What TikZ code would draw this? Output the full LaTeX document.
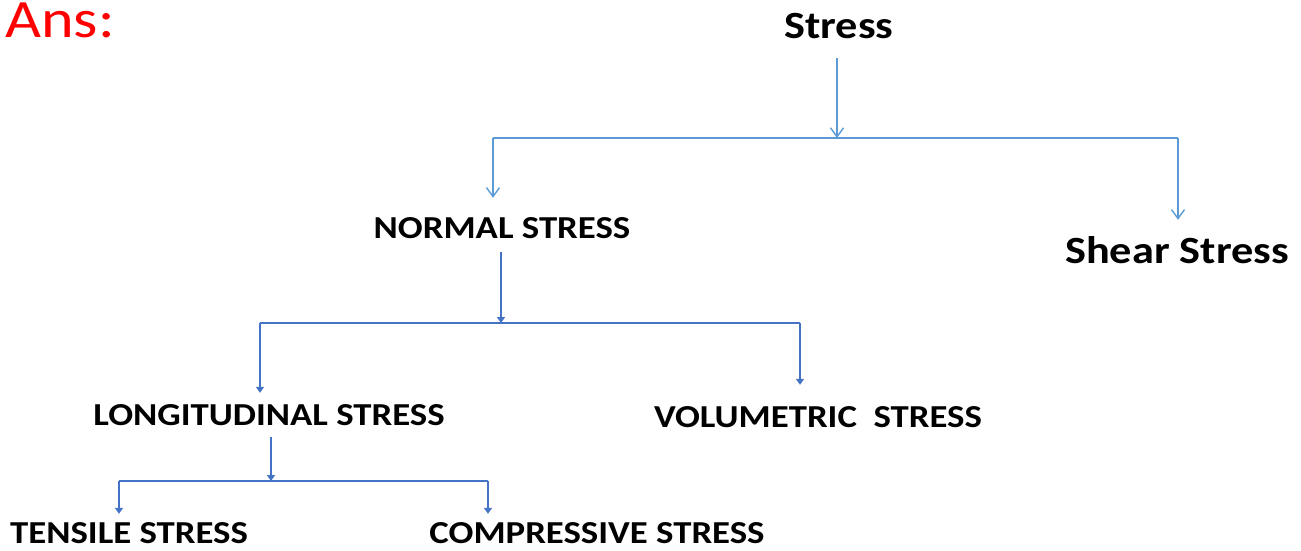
\documentclass[tikz,border=0pt]{standalone}
\usepackage{fontspec}
\setmainfont{Carlito}
\newfontfamily\boxfont{Carlito}[FakeStretch=1.15]
\usetikzlibrary{arrows.meta}
\definecolor{lightline}{RGB}{91,155,213}
\definecolor{darkline}{RGB}{68,114,196}
\tikzset{
	lbl/.style={inner sep=0pt, anchor=base, text depth=0pt},
	bigtxt/.style={lbl, font=\fontsize{38.5}{40}\selectfont\boxfont\bfseries},
	smalltxt/.style={lbl, font=\fontsize{32}{34}\selectfont\boxfont\bfseries},
	linkA/.style={lightline, line width=1.4pt},
	arrA/.style={linkA, -{Straight Barb[length=9pt,width=13pt]}},
	linkB/.style={darkline, line width=1.8pt},
	arrB/.style={linkB, -{Triangle[length=6pt,width=8pt]}}
}

\begin{document}
\begin{tikzpicture}[x=1pt,y=-1pt]
\useasboundingbox (0,0) rectangle (1301,551);
\node [inner sep=0pt, anchor=base west, red, font=\fontsize{54}{58}\selectfont\boxfont] (ans) at (5,38) {Ans:};
\node [bigtxt] (stress) at (839,39) {Stress};
\node [bigtxt] (shear) at (1177,263) {Shear Stress};
\node [smalltxt] (normal) at (502,238) {NORMAL STRESS};
\node [smalltxt] (longi) at (269,425) {LONGITUDINAL STRESS};
\node [smalltxt] (volum) at (818,427) {VOLUMETRIC\ \ STRESS};
\node [smalltxt] (tensile) at (129,543) {TENSILE STRESS};
\node [smalltxt] (compress) at (597,543) {COMPRESSIVE STRESS};
\coordinate (b1l) at (493,138);
\coordinate (b1m) at (837,138);
\coordinate (b1r) at (1178,138);
\coordinate (b2l) at (260,323);
\coordinate (b2m) at (501,323);
\coordinate (b2r) at (800,323);
\coordinate (b3l) at (119,481);
\coordinate (b3m) at (271,481);
\coordinate (b3r) at (488,481);
\draw [linkA] (b1l) -- (b1r);
\draw [arrA, shorten <=19pt] (stress.south -| b1m) -- (b1m);
\draw [arrA, shorten >=19pt] (b1l) -- (b1l |- normal.north);
\draw [arrA, shorten >=16pt] (b1r) -- (b1r |- shear.north);
\draw [linkB] (b2l) -- (b2r);
\draw [arrB, shorten <=14pt] (normal.south -| b2m) -- (b2m);
\draw [arrB, shorten >=11pt] (b2l) -- (b2l |- longi.north);
\draw [arrB, shorten >=21pt] (b2r) -- (b2r |- volum.north);
\draw [linkB] (b3l) -- (b3r);
\draw [arrB, shorten <=12pt] (longi.south -| b3m) -- (b3m);
\draw [arrB, shorten >=8pt] (b3l) -- (b3l |- tensile.north);
\draw [arrB, shorten >=8pt] (b3r) -- (b3r |- compress.north);
\end{tikzpicture}
\end{document}
